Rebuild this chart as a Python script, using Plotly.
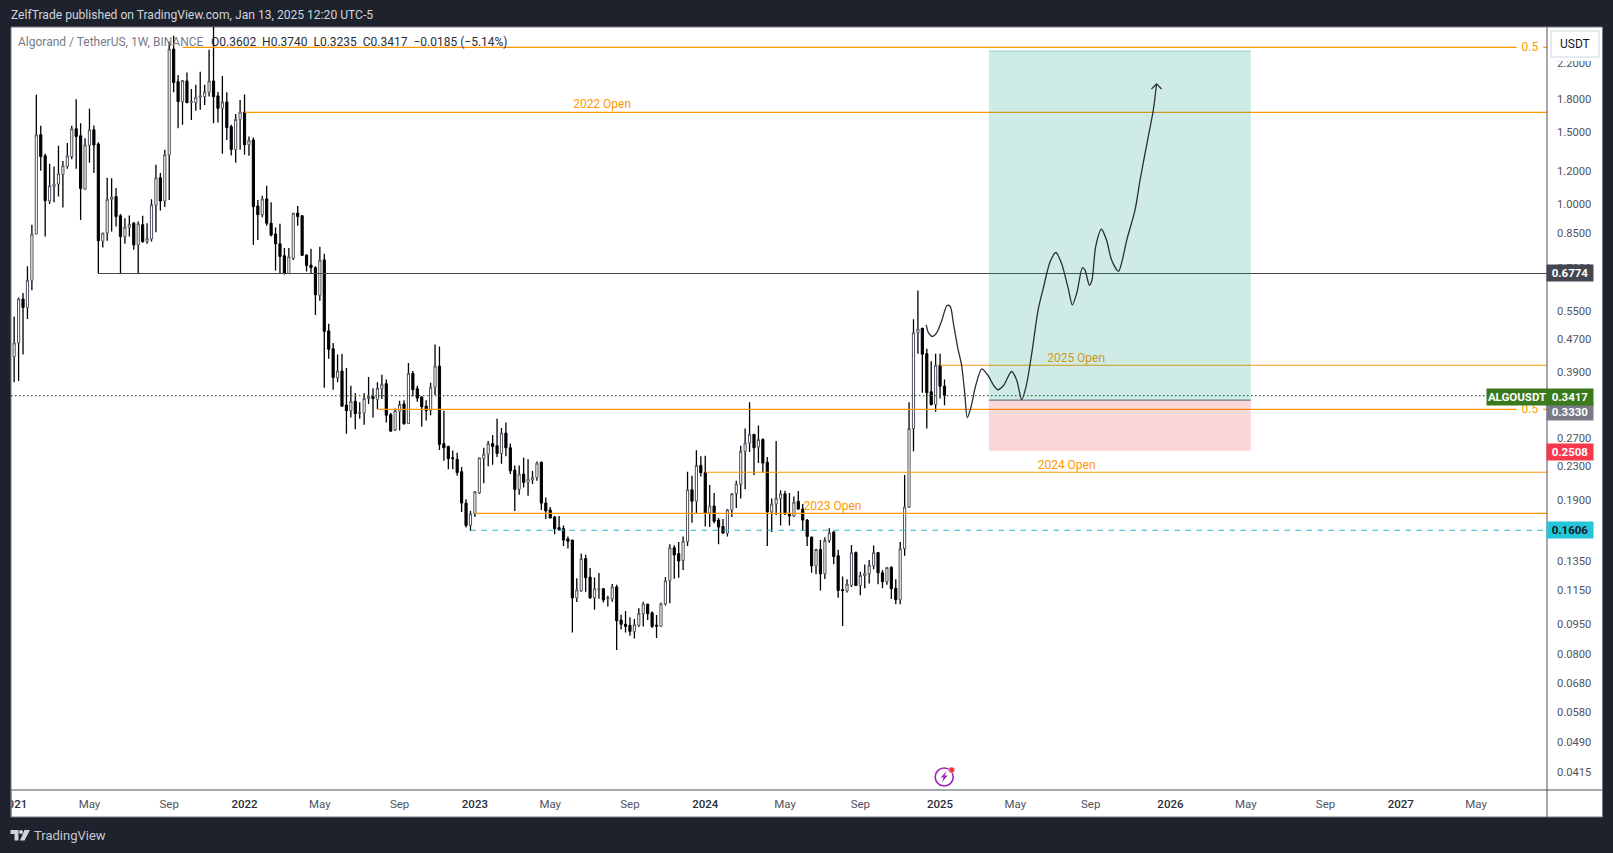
import math
import pandas as pd
import plotly.graph_objects as go

bar_dates = pd.date_range("2021-01-04", periods=211, freq="W-MON")
opens = [
    .425, .459, .587, .560, .652, .845, 1.474, 1.310, 1.017, 1.103,
    1.118, 1.180, 1.234, 1.305, 1.525, 1.466, 1.086, 1.390, 1.516, 1.400,
    .812, .850, 1.027, 1.043, .936, .833, .877, .898, .795, .890,
    .810, .822, .993, 1.158, 1.017, 1.315, 2.384, 1.985, 1.775, 1.993,
    1.765, 1.765, 1.820, 1.826, 1.870, 1.993, 1.833, 1.710, 1.772, 1.542,
    1.358, 1.607, 1.674, 1.394, 1.432, .989, .942, 1.029, .898, .845,
    .800, .748, .677, .738, .950, .936, .751, .710, .700, .599,
    .731, .491, .444, .378, .392, .324, .314, .331, .309, .310,
    .336, .340, .334, .355, .365, .307, .282, .313, .326, .292,
    .387, .355, .339, .322, .315, .358, .403, .261, .257, .241,
    .239, .223, .187, .165, .176, .198, .240, .246, .261, .258,
    .247, .277, .255, .225, .202, .220, .210, .213, .216, .235,
    .187, .180, .173, .163, .162, .153, .152, .1099, .1143, .137,
    .1235, .110, .1153, .1157, .1094, .1092, .1169, .0971, .0948, .0943,
    .0911, .0943, .1006, .1061, .1011, .0943, .0937, .1063, .1211, .1456,
    .1409, .1355, .1505, .2015, .189, .231, .222, .177, .184, .170,
    .164, .158, .180, .197, .208, .250, .262, .275, .256, .267,
    .235, .178, .186, .192, .197, .176, .174, .189, .181, .170,
    .1545, .1315, .1442, .1258, .1515, .159, .1392, .115, .1143, .118,
    .1417, .1178, .1245, .1258, .1315, .1417, .1265, .1204, .1305, .116,
    .1088, .1448, .183, .284, .486, .4985, .432, .349, .325, .405, .3602,
]
closes = [
    .459, .587, .560, .652, .845, 1.474, 1.305, 1.019, 1.108, 1.118,
    1.185, 1.239, 1.310, 1.525, 1.460, 1.091, 1.392, 1.516, 1.392, .814,
    .850, 1.027, 1.040, .932, .833, .879, .893, .795, .895, .810,
    .825, .995, 1.158, 1.017, 1.318, 2.384, 1.975, 1.775, 1.996, 1.765,
    1.775, 1.820, 1.833, 1.876, 1.993, 1.826, 1.710, 1.772, 1.535, 1.358,
    1.607, 1.674, 1.394, 1.430, .985, .942, 1.029, .898, .840, .800,
    .745, .677, .744, .950, .932, .750, .708, .700, .601, .730,
    .490, .443, .378, .392, .322, .314, .331, .309, .310, .336,
    .340, .336, .356, .364, .306, .280, .314, .325, .292, .387,
    .353, .337, .321, .314, .358, .403, .260, .255, .240, .240,
    .222, .187, .165, .176, .199, .241, .246, .261, .257, .247,
    .277, .255, .224, .202, .220, .210, .214, .216, .234, .187,
    .179, .172, .162, .161, .152, .151, .1099, .115, .137, .1231,
    .1099, .1157, .1157, .1086, .1099, .1169, .0967, .0948, .0937, .0911,
    .0946, .1008, .1063, .1006, .0937, .0939, .1063, .1209, .1456, .1398,
    .1352, .151, .2015, .189, .231, .222, .177, .184, .169, .1635,
    .158, .180, .197, .208, .250, .262, .275, .255, .267, .234,
    .178, .186, .192, .197, .176, .174, .188, .181, .170, .155,
    .1315, .1442, .1258, .1517, .1583, .1385, .1146, .1146, .1187, .1417,
    .1178, .1247, .1262, .132, .1417, .1265, .1204, .1303, .1157, .1088,
    .1448, .183, .284, .486, .496, .431, .347, .325, .405, .360, .3417,
]
highs = [
    .532, .592, .607, .705, .890, 1.844, 1.550, 1.326, 1.253, 1.234,
    1.386, 1.273, 1.407, 1.550, 1.800, 1.573, 1.446, 1.705, 1.553, 1.414,
    .850, 1.158, 1.156, 1.094, .945, .923, .937, .904, .906, .936,
    .898, 1.027, 1.246, 1.189, 1.356, 2.484, 2.567, 2.060, 2.004, 2.090,
    1.905, 1.950, 2.100, 1.950, 2.375, 2.750, 1.873, 2.050, 1.870, 1.559,
    1.657, 1.791, 1.848, 1.460, 1.451, 1.023, 1.047, 1.108, 1.010, .877,
    .895, .781, .781, .950, .989, .940, .755, .778, .705, .787,
    .757, .511, .459, .430, .432, .399, .361, .346, .329, .346,
    .379, .356, .368, .384, .374, .310, .318, .332, .333, .410,
    .392, .361, .340, .333, .367, .455, .450, .314, .258, .251,
    .248, .229, .191, .179, .200, .241, .255, .265, .274, .300,
    .285, .294, .261, .231, .231, .241, .239, .224, .236, .236,
    .193, .183, .174, .174, .165, .155, .152, .1228, .141, .140,
    .130, .1232, .1263, .116, .1112, .1189, .1183, .100, .1022, .0986,
    .0977, .1037, .1076, .1063, .1018, .0998, .1071, .1235, .1484, .1476,
    .1503, .155, .223, .218, .2515, .243, .244, .207, .198, .172,
    .171, .181, .198, .212, .258, .284, .329, .275, .289, .269,
    .242, .192, .265, .201, .2005, .198, .194, .200, .186, .171,
    .155, .1448, .152, .1545, .1625, .160, .144, .1239, .122, .1479,
    .1425, .1273, .1325, .136, .1475, .1417, .1285, .1307, .1312, .122,
    .1503, .219, .329, .524, .616, .4985, .444, .414, .432, .432, .374,
]
lows = [
    .368, .371, .430, .525, .617, .845, 1.205, .833, 1.000, 1.010,
    1.043, .981, 1.218, 1.285, 1.218, .914, 1.083, 1.261, 1.189, .677,
    .784, .814, .857, .881, .675, .800, .833, .774, .677, .805,
    .800, .810, .853, .964, .983, 1.023, 1.870, 1.530, 1.559, 1.760,
    1.601, 1.686, 1.696, 1.743, 1.826, 1.573, 1.578, 1.326, 1.432, 1.312,
    1.261, 1.356, 1.318, 1.310, .795, .817, .928, .885, .833, .689,
    .677, .674, .677, .731, .885, .748, .685, .677, .537, .581,
    .357, .420, .353, .368, .322, .276, .302, .283, .300, .290,
    .326, .302, .317, .335, .294, .279, .280, .281, .290, .292,
    .340, .330, .287, .297, .306, .343, .252, .237, .226, .226,
    .218, .178, .163, .160, .173, .197, .209, .230, .232, .242,
    .233, .243, .220, .179, .196, .204, .195, .208, .212, .180,
    .171, .172, .157, .160, .147, .145, .0906, .1074, .1137, .1137,
    .1094, .1028, .1094, .1071, .1047, .1076, .0821, .0921, .0906, .0889,
    .0875, .0934, .0937, .0971, .0928, .0878, .0934, .1053, .1067, .1223,
    .1231, .1285, .147, .1675, .176, .217, .164, .1635, .167, .1484,
    .158, .155, .173, .182, .192, .202, .249, .219, .234, .222,
    .147, .159, .175, .165, .175, .165, .173, .180, .160, .147,
    .1265, .1255, .1146, .1222, .1497, .1327, .110, .0939, .1133, .1168,
    .1176, .1115, .116, .1192, .129, .1187, .116, .1183, .1092, .1061,
    .1061, .1393, .182, .250, .432, .347, .284, .323, .312, .336, .3235,
]

# hand drawn projection
path_dates = [
    "2024-12-15", "2024-12-19", "2024-12-25", "2025-01-01", "2025-01-09", "2025-01-17",
    "2025-01-22", "2025-01-27", "2025-02-03", "2025-02-09", "2025-02-14", "2025-02-18",
    "2025-02-24", "2025-03-03", "2025-03-13", "2025-03-22", "2025-04-01", "2025-04-07",
    "2025-04-16", "2025-04-29", "2025-05-07", "2025-05-15", "2025-05-22", "2025-05-31",
    "2025-06-10", "2025-06-18", "2025-06-29", "2025-07-08", "2025-07-17", "2025-07-28",
    "2025-08-03", "2025-08-10", "2025-08-19", "2025-08-23", "2025-08-30", "2025-09-03",
    "2025-09-09", "2025-09-18", "2025-09-26", "2025-10-04", "2025-10-15", "2025-10-21",
    "2025-10-28", "2025-11-10", "2025-11-18", "2025-11-29", "2025-12-09", "2025-12-14",
]
path_prices = [
    .508, .485, .476, .487, .522, .566, .563, .513, .446, .405, .346, .302,
    .321, .360, .397, .384, .361, .353, .361, .391, .373, .334, .360, .434,
    .553, .623, .724, .762, .716, .618, .568, .607, .700, .690, .634, .653,
    .790, .868, .817, .731, .686, .731, .817, .966, 1.144, 1.407, 1.696, 1.96,
]
arrow_dates = ["2025-12-06", "2025-12-14", "2025-12-22"]
arrow_prices = [1.905, 1.96, 1.905]

# levels: start date, price
level_2022 = ("2022-01-03", 1.672)
level_2023 = ("2023-01-02", .1766)
level_2024 = ("2024-01-01", .2223)
level_2025 = ("2025-01-06", .405)
fib_top = ("2021-09-27", 2.407)
fib_low = ("2022-08-01", .3164)
support = ("2021-05-17", .6774)
dashed = ("2022-12-26", .1606)
last_price = .3417
entry = .3330
stop = .2508
target = 2.357
box_start = "2025-03-24"
box_end = "2026-05-12"
axis_start = "2020-12-30"
axis_end = "2027-08-23"

tick_dates = [
    "2021-01-04", "2021-05-03", "2021-09-06", "2022-01-03", "2022-05-02", "2022-09-05",
    "2023-01-02", "2023-05-01", "2023-09-04", "2024-01-01", "2024-05-06", "2024-09-02",
    "2025-01-06", "2025-05-05", "2025-09-01", "2026-01-05", "2026-05-04", "2026-09-07",
    "2027-01-04", "2027-05-03",
]
YEAR = "<span style='font-weight:500;fill:#2A2E39'>%s</span>"
tick_names = [
    YEAR % "2021", "May", "Sep", YEAR % "2022", "May", "Sep",
    YEAR % "2023", "May", "Sep", YEAR % "2024", "May", "Sep",
    YEAR % "2025", "May", "Sep", YEAR % "2026", "May", "Sep",
    YEAR % "2027", "May",
]
price_ticks = [2.2, 1.8, 1.5, 1.2, 1.0, .85, .7, .55, .47, .39, .27, .23, .19,
               .135, .115, .095, .08, .068, .058, .049, .0415]

W, H = 1613, 853
L, R, T, B = 10.5, 1547, 27, 790
DARK = "#1E222D"
ORANGE = "#FF9800"
FONT = "Roboto"


def px(x):
    return (x - L) / (R - L)


def py(y):
    return (B - y) / (B - T)


fig = go.Figure()


def line(x0, x1, price, color=ORANGE, width=1.2, dash="solid"):
    fig.add_trace(go.Scatter(x=[x0, x1], y=[price, price], mode="lines",
                             line=dict(color=color, width=width, dash=dash), hoverinfo="skip"))


def label(x, price, text, color=ORANGE):
    fig.add_trace(go.Scatter(x=[x], y=[price], mode="text", text=[text],
                             textfont=dict(family=FONT, size=12, color=color), hoverinfo="skip"))


for start, price in [level_2022, level_2023, level_2024, level_2025]:
    line(start, axis_end, price)
for start, price in [fib_top, fib_low]:
    line(start, "2027-07-06", price)
    line("2027-08-17", axis_end, price)
    label("2027-07-27", price * .994, "0.5")
line(support[0], axis_end, support[1], color="#434651", width=1.2)
line(dashed[0], axis_end, dashed[1], color="#26B6D0", width=1.2, dash="5.5px,5.5px")
line(axis_start, axis_end, last_price, color="#2F6B1A", width=1.2, dash="1.5px,2.5px")

label("2023-07-22", 1.741, "2022 Open")
label("2024-07-20", .183, "2023 Open")
label("2025-07-25", .2302, "2024 Open")
label("2025-08-09", .420, "2025 Open")

# long position box
fig.add_trace(go.Scatter(x=[box_start, box_end, box_end, box_start, box_start],
                         y=[entry, entry, target, target, entry], mode="lines", fill="toself",
                         fillcolor="rgba(8,153,129,0.2)", line=dict(width=0), hoverinfo="skip"))
fig.add_trace(go.Scatter(x=[box_start, box_end, box_end, box_start, box_start],
                         y=[stop, stop, entry, entry, stop], mode="lines", fill="toself",
                         fillcolor="rgba(242,54,69,0.2)", line=dict(width=0), hoverinfo="skip"))
line(box_start, box_end, target, color="rgba(8,153,129,0.35)", width=1)
line(box_start, box_end, entry, color="#787B86", width=1.2)

# wicks first (box collapsed inside the body), then bodies on top
mids = [(o + c) / 2 for o, c in zip(opens, closes)]
fig.add_trace(go.Candlestick(
    x=bar_dates, open=mids, high=highs, low=lows, close=mids, whiskerwidth=0, hoverinfo="skip",
    increasing=dict(line=dict(color="#000000", width=1.3), fillcolor="#000000"),
    decreasing=dict(line=dict(color="#000000", width=1.3), fillcolor="#000000")))
fig.add_trace(go.Candlestick(
    x=bar_dates, open=opens, close=closes, hoverinfo="skip", whiskerwidth=0,
    high=[max(o, c) for o, c in zip(opens, closes)],
    low=[min(o, c) for o, c in zip(opens, closes)],
    increasing=dict(line=dict(color="#50535E", width=1), fillcolor="#FFFFFF"),
    decreasing=dict(line=dict(color="#000000", width=1), fillcolor="#000000")))

fig.add_trace(go.Scatter(x=path_dates, y=path_prices, mode="lines", hoverinfo="skip",
                         line=dict(color="#2A2E39", width=1.3, shape="spline", smoothing=0.8)))
fig.add_trace(go.Scatter(x=arrow_dates, y=arrow_prices, mode="lines", hoverinfo="skip",
                         line=dict(color="#2A2E39", width=1.2)))

shapes = [
    # white card behind plot and axes
    dict(type="rect", xref="paper", yref="paper", layer="below", x0=px(L), x1=px(1602.5), y0=py(817), y1=py(T),
         fillcolor="#FFFFFF", line=dict(color="#787B86", width=1)),
    # clips the first year label at the card edge
    dict(type="rect", xref="paper", yref="paper", x0=px(0), x1=px(10), y0=py(817), y1=py(791),
         fillcolor=DARK, line=dict(width=0)),
    dict(type="line", xref="paper", yref="paper", x0=px(L), x1=px(L), y0=py(817), y1=py(791),
         line=dict(color="#787B86", width=1)),
    dict(type="line", xref="paper", yref="paper", x0=px(L), x1=px(1602.5), y0=py(B), y1=py(B),
         line=dict(color="#50535E", width=1)),
    dict(type="line", xref="paper", yref="paper", x0=px(R), x1=px(R), y0=py(817), y1=py(T),
         line=dict(color="#50535E", width=1)),
    # top of the price scale is hidden by the currency button
    dict(type="rect", xref="paper", yref="paper", x0=px(R + 1), x1=px(1602), y0=py(61), y1=py(T + 1),
         fillcolor="#FFFFFF", line=dict(width=0)),
    dict(type="rect", xref="paper", yref="paper", x0=px(1551), x1=px(1599), y0=py(57), y1=py(31),
         fillcolor="#FFFFFF", line=dict(color="#E0E3EB", width=1.5)),
    # lightning badge
    dict(type="circle", xref="paper", yref="paper", x0=px(935), x1=px(953), y0=py(786), y1=py(768),
         fillcolor="rgba(0,0,0,0)", line=dict(color="#9C27B0", width=1.6)),
    dict(type="path", xref="paper", yref="paper", fillcolor="#9C27B0", line=dict(width=0),
         path="M %f %f L %f %f L %f %f L %f %f L %f %f L %f %f Z" % (
             px(946.5), py(771), px(940.5), py(777.5), px(943.5), py(777.5),
             px(941.5), py(782.5), px(947.5), py(775.5), px(944.5), py(775.5))),
    dict(type="circle", xref="paper", yref="paper", x0=px(948.5), x1=px(954.5), y0=py(773), y1=py(767),
         fillcolor="#F23645", line=dict(color="#FFFFFF", width=0.5)),
    # TradingView mark
    dict(type="path", xref="paper", yref="paper", fillcolor="#D1D4DC", line=dict(width=0),
         path="M %f %f L %f %f L %f %f L %f %f L %f %f L %f %f Z" % (
             px(10), py(830), px(18), py(830), px(18), py(840.5), px(14), py(840.5), px(14), py(834), px(10), py(834))),
    dict(type="circle", xref="paper", yref="paper", fillcolor="#D1D4DC", line=dict(width=0),
         x0=px(18.5), x1=px(22.5), y0=py(834), y1=py(830)),
    dict(type="path", xref="paper", yref="paper", fillcolor="#D1D4DC", line=dict(width=0),
         path="M %f %f L %f %f L %f %f L %f %f Z" % (
             px(24), py(830), px(29.5), py(830), px(24), py(840.5), px(19.5), py(840.5))),
]


def tag(x, price, text, bg, width=46, color="#FFFFFF", shift=0):
    return dict(xref="paper", yref="y", x=px(x), y=math.log10(price), yshift=shift, text="<b>%s</b>" % text,
                showarrow=False, xanchor="center", yanchor="middle", bgcolor=bg, width=width, height=16,
                borderpad=0, align="center", font=dict(family=FONT, size=11.5, color=color))


def plain(x, y, text, color, size=12, anchor="left"):
    return dict(xref="paper", yref="paper", x=px(x), y=py(y), text=text, showarrow=False, xanchor=anchor,
                yanchor="middle", font=dict(family=FONT, size=size, color=color))


annotations = [
    plain(8, 15, "ZelfTrade published on TradingView.com, Jan 13, 2025 12:20 UTC-5", "#D1D4DC", size=12.1),
    plain(15.5, 41.5, "Algorand / TetherUS, 1W, BINANCE", "#787B86", size=12),
    plain(208.5, 41.5, "O0.3602&nbsp;&nbsp;H0.3740&nbsp;&nbsp;L0.3235&nbsp;&nbsp;C0.3417&nbsp;&nbsp;−0.0185 (−5.14%)",
          "#2A2E39", size=12),
    plain(31.5, 835, "TradingView", "#C4C7D0", size=13),
    plain(1575, 44, "USDT", "#131722", size=12, anchor="center"),
    tag(1570, support[1], "0.6774", "#434651"),
    tag(1570, entry, "0.3330", "#787B86", shift=-12),
    tag(1517, last_price, "ALGOUSDT", "#3A7A1D", width=60, shift=-1),
    tag(1570, last_price, "0.3417", "#3A7A1D", shift=-1),
    tag(1570, stop, "0.2508", "#F7374D", shift=-1),
    tag(1570, dashed[1], "0.1606", "#26C6DA", color="#131722"),
]

fig.update_layout(
    width=W, height=H, autosize=False, showlegend=False,
    paper_bgcolor=DARK, plot_bgcolor="#FFFFFF",
    margin=dict(l=L, r=W - R, t=T, b=H - B, pad=0, autoexpand=False),
    font=dict(family=FONT, size=12, color="#50535E"),
    shapes=shapes, annotations=annotations, hovermode=False,
)
fig.update_xaxes(type="date", range=[axis_start, axis_end], rangeslider_visible=False, showgrid=False,
                 zeroline=False, showline=False, tickmode="array", tickvals=tick_dates, ticktext=tick_names,
                 ticks="", ticklabelstandoff=5, tickangle=0, tickfont=dict(family=FONT, size=11.5, color="#50535E"))
fig.update_yaxes(type="log", side="right", range=[-1.4266, 0.4309], showgrid=False, zeroline=False,
                 showline=False, tickmode="array", tickvals=price_ticks,
                 ticktext=["%.4f" % v for v in price_ticks],
                 ticks="", ticklabelstandoff=9, tickfont=dict(family=FONT, size=11.2, color="#50535E"))

fig.write_html("out.html", config={"displayModeBar": False},
               post_script="document.body.style.margin='0';document.body.style.background='%s';" % DARK)
